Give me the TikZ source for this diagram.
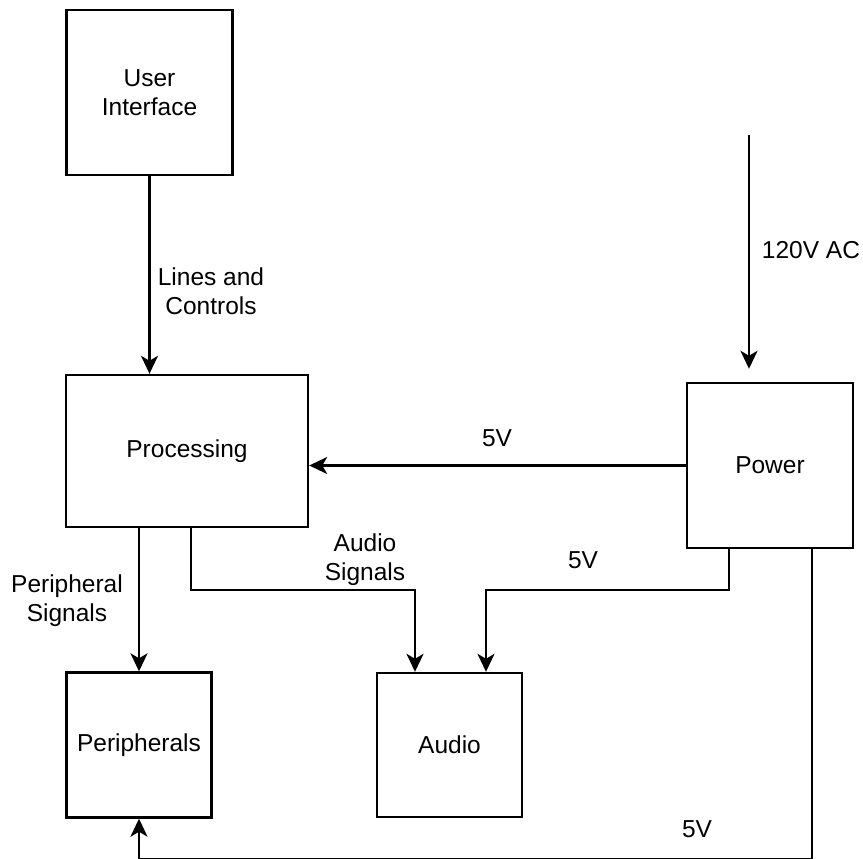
\documentclass[tikz,border=0pt]{standalone}
\usepackage{fontspec}
\setmainfont{Liberation Sans}
\usetikzlibrary{arrows.meta}
\begin{document}
\begin{tikzpicture}[x=1pt,y=-1pt,
  block/.style={draw, line width=2.4pt, rectangle, inner sep=0pt, align=center},
  lbl/.style={inner sep=0pt, align=center},
  wire/.style={line width=2.4pt},
  arr/.style={wire, -{Stealth[length=18pt,width=17pt,inset=5pt]}},
  every node/.append style={font=\fontsize{24.5}{29}\selectfont}]
  \useasboundingbox (0,0) rectangle (863,859);

  % blocks
  \node[block, minimum width=166pt, minimum height=165pt] (ui) at (149.5,92.5) {User\\Interface};
  \node[block, minimum width=242pt, minimum height=152pt] (proc) at (187,451) {Processing};
  \node[block, minimum width=166pt, minimum height=165pt] (pow) at (770,465.5) {Power};
  \node[block, minimum width=145pt, minimum height=145pt] (periph) at (139,745) {Peripherals};
  \node[block, minimum width=145pt, minimum height=144pt] (audio) at (449.5,745) {Audio};

  % mains input
  \coordinate (acin) at (749,135);
  \draw[arr] (acin) -- ([yshift=13pt]acin |- pow.north);

  % connectors
  \draw[arr] (ui.south) -- (ui.south |- proc.north);
  \draw[arr] (pow.west) -- (pow.west -| proc.east);
  \draw[arr] (periph.north |- proc.south) -- (periph.north);
  \draw[arr] ([xshift=4pt]proc.south) -- ++(0,62) -| ([xshift=-34.5pt]audio.north);
  \draw[arr] ([xshift=-41pt]pow.south) -- ++(0,41) -| ([xshift=36.5pt]audio.north);
  \draw[arr] ([xshift=42pt]pow.south) -- ++(0,309.5) -| (periph.south);

  % labels
  \node[lbl] (l1) at (211,291) {Lines and\\Controls};
  \node[lbl] (l2) at (811,250) {120V AC};
  \node[lbl] (l3) at (497,438) {5V};
  \node[lbl] (l4) at (67,601) {Peripheral\\Signals};
  \node[lbl] (l5) at (365,560) {Audio\\Signals};
  \node[lbl] (l6) at (583,560) {5V};
  \node[lbl] (l7) at (697,829) {5V};
\end{tikzpicture}
\end{document}
